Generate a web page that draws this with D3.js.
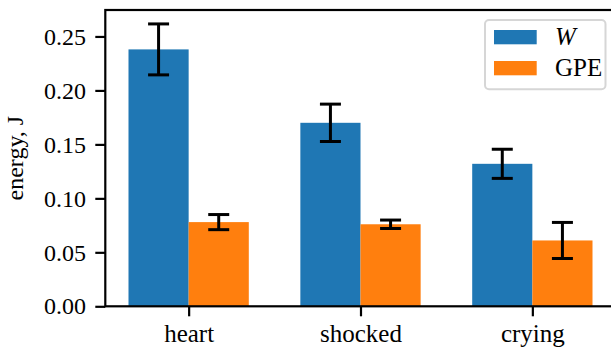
<!DOCTYPE html>
<html>
<head>
<meta charset="utf-8">
<script src="https://cdn.jsdelivr.net/npm/d3@7"></script>
<style>
  body { margin: 0; background: #fff; }
  svg { display: block; font-family: "Liberation Serif", "DejaVu Serif", serif; }
</style>
</head>
<body>
<div id="mainChart"></div>
<script>
const categories = [ 'heart', 'shocked', 'crying' ];
const wValues = [ 0.238, 0.170, 0.132 ];
const wErrors = [ 0.0236, 0.0173, 0.0135 ];
const gpeValues = [ 0.078, 0.076, 0.061 ];
const gpeErrors = [ 0.0070, 0.0039, 0.0167 ];
const yTicks = [ 0, 0.05, 0.10, 0.15, 0.20, 0.25 ];
const seriesNames = [ 'W', 'GPE' ];

const CHART_SIZE = { width: 611, height: 350 };
const PLOT = { left: 105.3, right: 615.7, top: 10, bottom: 306.3 };
const BAR_WIDTH = 0.35;
const COLORS = [ '#1f77b4', '#ff7f0e' ];
const FONT_SIZE = 24;

const x = d3.scaleLinear()
    .domain([ -0.485, 2.485 ])
    .range([ PLOT.left, PLOT.right ]);

const y = d3.scaleLinear()
    .domain([ 0, 0.2745 ])
    .range([ PLOT.bottom, PLOT.top ]);

const svg = d3.select('#mainChart')
    .append('svg')
    .attr('width', CHART_SIZE.width)
    .attr('height', CHART_SIZE.height);

const series = [
    { name: seriesNames[0], values: wValues, errors: wErrors, offset: -BAR_WIDTH / 2 },
    { name: seriesNames[1], values: gpeValues, errors: gpeErrors, offset: BAR_WIDTH / 2 }
];

// bars
series.forEach((s, si) => {
    svg.append('g')
        .selectAll('rect')
        .data(s.values)
        .join('rect')
        .attr('x', (d, i) => x(i + s.offset - BAR_WIDTH / 2))
        .attr('y', d => y(d))
        .attr('width', x(BAR_WIDTH) - x(0))
        .attr('height', d => y(0) - y(d))
        .attr('fill', COLORS[si]);
});

// error bars
const CAP = 10.5;
series.forEach(s => {
    const g = svg.append('g')
        .attr('stroke', 'black')
        .attr('stroke-width', 3);
    s.values.forEach((v, i) => {
        const cx = x(i + s.offset);
        const lo = y(v - s.errors[i]);
        const hi = y(v + s.errors[i]);
        g.append('line').attr('x1', cx).attr('x2', cx).attr('y1', lo).attr('y2', hi);
        g.append('line').attr('x1', cx - CAP).attr('x2', cx + CAP).attr('y1', lo).attr('y2', lo);
        g.append('line').attr('x1', cx - CAP).attr('x2', cx + CAP).attr('y1', hi).attr('y2', hi);
    });
});

// axes
const xAxis = svg.append('g')
    .attr('transform', `translate(0, ${PLOT.bottom})`)
    .call(d3.axisBottom(x)
        .tickValues([ 0, 1, 2 ])
        .tickFormat(d => categories[d])
        .tickSize(10)
        .tickPadding(8.3));

const yAxis = svg.append('g')
    .attr('transform', `translate(${PLOT.left}, 0)`)
    .call(d3.axisLeft(y)
        .tickValues(yTicks)
        .tickFormat(d3.format('.2f'))
        .tickSize(10)
        .tickPadding(9.3));

[ xAxis, yAxis ].forEach(a => {
    a.select('.domain').remove();
    a.selectAll('line').attr('stroke', 'black').attr('stroke-width', 2.2);
    a.selectAll('text')
        .attr('fill', 'black')
        .style('font-family', '"Liberation Serif", serif')
        .style('font-size', FONT_SIZE + 'px');
});
xAxis.selectAll('text').style('font-size', '25px');

// spines
svg.append('rect')
    .attr('x', PLOT.left)
    .attr('y', PLOT.top)
    .attr('width', PLOT.right - PLOT.left)
    .attr('height', PLOT.bottom - PLOT.top)
    .attr('fill', 'none')
    .attr('stroke', 'black')
    .attr('stroke-width', 2.2);

// y label
svg.append('text')
    .attr('transform', `translate(22.5, ${(PLOT.top + PLOT.bottom) / 2}) rotate(-90)`)
    .attr('text-anchor', 'middle')
    .style('font-size', '24px')
    .text('energy, J');

// legend
const legend = svg.append('g');
legend.append('rect')
    .attr('x', 485)
    .attr('y', 20)
    .attr('width', 120.5)
    .attr('height', 69.3)
    .attr('rx', 4)
    .attr('fill', 'white')
    .attr('fill-opacity', 0.8)
    .attr('stroke', '#d6d6d6')
    .attr('stroke-width', 2);

series.forEach((s, si) => {
    const row = legend.append('g').attr('transform', `translate(494, ${30 + si * 31})`);
    row.append('rect')
        .attr('width', 42.7)
        .attr('height', 14.3)
        .attr('fill', COLORS[si]);
    row.append('text')
        .attr('x', 61)
        .attr('y', 15)
        .style('font-size', '25px')
        .style('font-style', si === 0 ? 'italic' : 'normal')
        .text(s.name);
});
</script>
</body>
</html>
